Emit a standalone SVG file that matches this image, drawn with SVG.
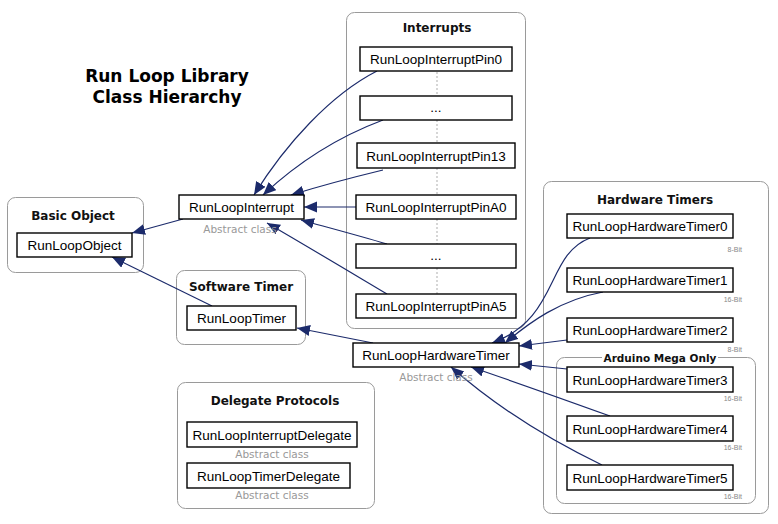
<svg xmlns="http://www.w3.org/2000/svg" width="778" height="524" viewBox="0 0 778 524">
<defs>
<style>
.grp{fill:#fff;stroke:#9a9a9a;stroke-width:1}
.gt{font-family:"DejaVu Sans",sans-serif;font-weight:bold;font-size:12px;fill:#111;text-anchor:middle}
.nd{fill:#fff;stroke:#000;stroke-width:1.4}
.nt{font-family:"Liberation Sans",Arial,sans-serif;font-size:13.5px;fill:#000;text-anchor:middle}
.ab{font-family:"DejaVu Sans",sans-serif;font-size:10.5px;fill:#999;text-anchor:middle}
.bit{font-family:"Liberation Sans",Arial,sans-serif;font-size:7px;fill:#888;text-anchor:end}
.e{fill:none;stroke:#1c2b6b;stroke-width:1.2;marker-end:url(#ah)}
.dot{stroke:#bbb;stroke-width:1.2;stroke-dasharray:2,2}
</style>
<marker id="ah" markerUnits="userSpaceOnUse" markerWidth="14" markerHeight="12" refX="13" refY="5.5" orient="auto">
<path d="M0,0 L13,5.5 L0,11 z" fill="#1c2b6b"/>
</marker>
</defs>
<rect width="778" height="524" fill="#fff"/>

<g id="title">
<text x="167" y="82" style="font-family:'DejaVu Sans',sans-serif;font-weight:bold;font-size:17px;text-anchor:middle">Run Loop Library</text>
<text x="167" y="103" style="font-family:'DejaVu Sans',sans-serif;font-weight:bold;font-size:17px;text-anchor:middle">Class Hierarchy</text>
</g>

<g id="groups">
<g id="grp-basic"><rect class="grp" x="7.5" y="197.5" width="136" height="75" rx="8"/><text class="gt" x="73" y="220">Basic Object</text></g>
<g id="grp-software"><rect class="grp" x="176.5" y="270.5" width="129" height="74" rx="8"/><text class="gt" x="241" y="291">Software Timer</text></g>
<g id="grp-delegate"><rect class="grp" x="177.5" y="382.5" width="197" height="126" rx="8"/><text class="gt" x="275" y="405">Delegate Protocols</text></g>
<g id="grp-interrupts"><rect class="grp" x="346.5" y="12.5" width="179" height="316" rx="8"/><text class="gt" x="437" y="32">Interrupts</text></g>
<g id="grp-hardware"><rect class="grp" x="543.5" y="181.5" width="225" height="332" rx="8"/><text class="gt" x="655" y="204">Hardware Timers</text></g>
<g id="grp-mega"><rect class="grp" x="556.5" y="357.5" width="199" height="146" rx="8"/><rect x="602" y="350" width="116" height="14" fill="#fff"/><text class="gt" x="660" y="362" style="font-size:10.5px">Arduino Mega Only</text></g>
</g>

<g id="dotted">
<line class="dot" x1="437" y1="72" x2="437" y2="96"/>
<line class="dot" x1="437" y1="120" x2="437" y2="143"/>
<line class="dot" x1="437" y1="168" x2="437" y2="195"/>
<line class="dot" x1="437" y1="219" x2="437" y2="244"/>
<line class="dot" x1="437" y1="268" x2="437" y2="294"/>
</g>

<g id="connectors">
<path class="e" d="M183,219 L132,233"/>
<path class="e" d="M212,306 L112,257"/>
<path class="e" d="M373,343 L297,328"/>
<path class="e" d="M377,71 C330,95 285,145 254,195"/>
<path class="e" d="M383,120 C335,138 295,165 263,195"/>
<path class="e" d="M383,170 C350,178 320,186 291,195"/>
<path class="e" d="M356,207 L304,207"/>
<path class="e" d="M387,244 C360,236 330,228 301,220"/>
<path class="e" d="M387,294 C350,272 310,248 267,223"/>
<path class="e" d="M590,238 C545,255 560,318 492,343"/>
<path class="e" d="M603,292 C560,300 530,322 505,343"/>
<path class="e" d="M567,340 L519,346"/>
<path class="e" d="M567,369 L519,364"/>
<path class="e" d="M610,416 C560,398 515,382 471,367"/>
<path class="e" d="M602,465 C550,440 500,410 451,367"/>
</g>

<g id="n-object"><rect class="nd" x="17" y="233" width="115" height="24"/><text class="nt" x="74.5" y="250">RunLoopObject</text></g>
<g id="n-interrupt"><rect class="nd" x="179" y="195" width="125" height="24"/><text class="nt" x="241.5" y="212">RunLoopInterrupt</text><text class="ab" x="240" y="233">Abstract class</text></g>
<g id="n-timer"><rect class="nd" x="187" y="306" width="109" height="24"/><text class="nt" x="241.5" y="323">RunLoopTimer</text></g>
<g id="n-hwtimer"><rect class="nd" x="353" y="343" width="166" height="24"/><text class="nt" x="436" y="360">RunLoopHardwareTimer</text><text class="ab" x="436" y="381">Abstract class</text></g>
<g id="n-intdelegate"><rect class="nd" x="187" y="422" width="170" height="25"/><text class="nt" x="272" y="439.5">RunLoopInterruptDelegate</text><text class="ab" x="272" y="458">Abstract class</text></g>
<g id="n-timerdelegate"><rect class="nd" x="187" y="463" width="163" height="25"/><text class="nt" x="268.5" y="480.5">RunLoopTimerDelegate</text><text class="ab" x="272" y="499">Abstract class</text></g>

<g id="n-pin0"><rect class="nd" x="360" y="47" width="152" height="24"/><text class="nt" x="436" y="64">RunLoopInterruptPin0</text></g>
<g id="n-dots1"><rect class="nd" x="360" y="96" width="152" height="24"/><text class="nt" x="436" y="112">...</text></g>
<g id="n-pin13"><rect class="nd" x="357" y="143" width="158" height="25"/><text class="nt" x="436" y="160.5">RunLoopInterruptPin13</text></g>
<g id="n-pina0"><rect class="nd" x="356" y="195" width="160" height="24"/><text class="nt" x="436" y="212">RunLoopInterruptPinA0</text></g>
<g id="n-dots2"><rect class="nd" x="356" y="244" width="160" height="24"/><text class="nt" x="436" y="260">...</text></g>
<g id="n-pina5"><rect class="nd" x="356" y="294" width="160" height="24"/><text class="nt" x="436" y="311">RunLoopInterruptPinA5</text></g>

<g id="n-hw0"><rect class="nd" x="567" y="214" width="166" height="24"/><text class="nt" x="650" y="231">RunLoopHardwareTimer0</text><text class="bit" x="742" y="252">8-Bit</text></g>
<g id="n-hw1"><rect class="nd" x="567" y="268" width="166" height="24"/><text class="nt" x="650" y="285">RunLoopHardwareTimer1</text><text class="bit" x="742" y="302">16-Bit</text></g>
<g id="n-hw2"><rect class="nd" x="567" y="318" width="166" height="24"/><text class="nt" x="650" y="335">RunLoopHardwareTimer2</text><text class="bit" x="742" y="352">8-Bit</text></g>
<g id="n-hw3"><rect class="nd" x="567" y="367" width="166" height="25"/><text class="nt" x="650" y="384.5">RunLoopHardwareTimer3</text><text class="bit" x="742" y="401">16-Bit</text></g>
<g id="n-hw4"><rect class="nd" x="567" y="416" width="166" height="25"/><text class="nt" x="650" y="433.5">RunLoopHardwareTimer4</text><text class="bit" x="742" y="450">16-Bit</text></g>
<g id="n-hw5"><rect class="nd" x="567" y="465" width="166" height="25"/><text class="nt" x="650" y="482.5">RunLoopHardwareTimer5</text><text class="bit" x="742" y="499">16-Bit</text></g>
</svg>
